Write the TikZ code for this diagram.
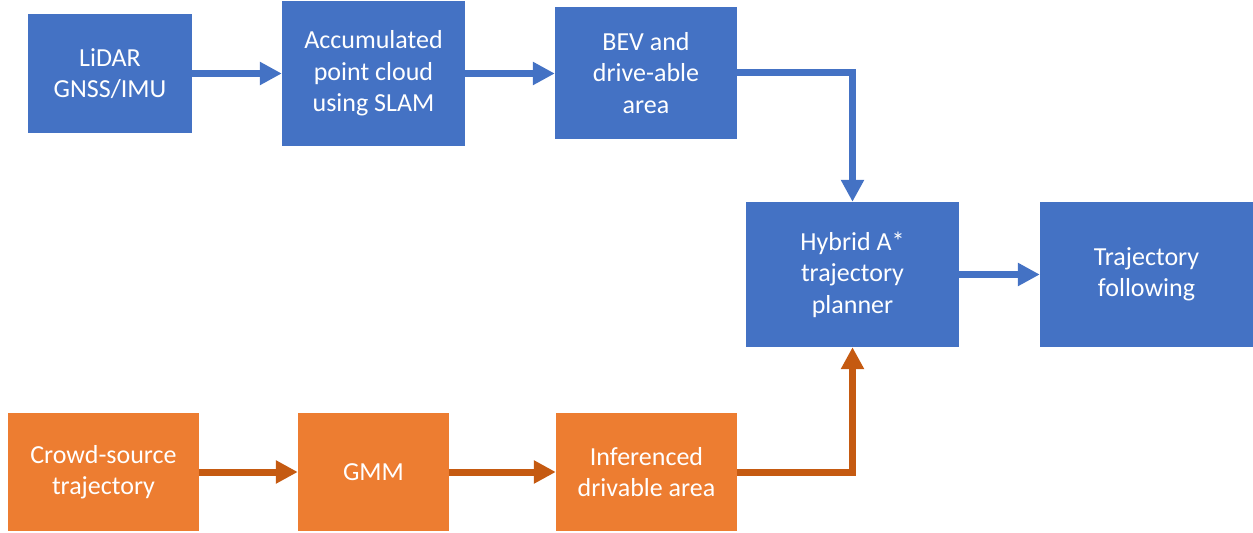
\documentclass[tikz,border=0pt]{standalone}
\usepackage{fontspec}
\setmainfont{Carlito}
\usetikzlibrary{arrows.meta}
\definecolor{boxblue}{HTML}{4472C4}
\definecolor{boxorange}{HTML}{ED7D31}
\definecolor{arroworange}{HTML}{C55A11}
\tikzset{
  bbox/.style={rectangle, fill=boxblue, text=white, align=center, inner sep=0pt,
    font=\fontsize{26bp}{31.5bp}\selectfont},
  obox/.style={bbox, fill=boxorange},
  barrow/.style={draw=boxblue, line width=7bp, -{Triangle[length=22bp,width=22bp]}},
  oarrow/.style={draw=arroworange, line width=7bp, -{Triangle[length=22bp,width=22bp]}},
}
\begin{document}
\begin{tikzpicture}[x=1bp,y=-1bp]
\useasboundingbox (0,0) rectangle (1253,533);
\node[bbox, minimum width=164bp, minimum height=119bp] (lidar) at (110,73.5) {LiDAR\\GNSS/IMU};
\node[bbox, minimum width=183bp, minimum height=145bp] (accum) at (373.5,73.5) {Accumulated\\point cloud\\using SLAM};
\node[bbox, minimum width=182bp, minimum height=132bp] (bev) at (646,73) {BEV and\\drive-able\\area};
\node[bbox, minimum width=213bp, minimum height=145bp] (hybrid) at (852.5,274.5) {Hybrid A*\\trajectory\\planner};
\node[bbox, minimum width=213bp, minimum height=145bp] (traj) at (1146.5,274.5) {Trajectory\\following};
\node[obox, minimum width=191bp, minimum height=118bp] (crowd) at (103.5,472) {Crowd-source\\trajectory};
\node[obox, minimum width=151bp, minimum height=118bp] (gmm) at (373.5,472) {GMM};
\node[obox, minimum width=181bp, minimum height=118bp] (infer) at (646.5,472) {Inferenced\\drivable area};
\draw[barrow] (lidar.east) -- (accum.west |- lidar.east);
\draw[barrow] (accum.east) -- (bev.west |- accum.east);
\draw[barrow] (bev.east) -| (hybrid.north);
\draw[barrow] (hybrid.east) -- (traj.west);
\draw[oarrow] (crowd.east) -- (gmm.west);
\draw[oarrow] (gmm.east) -- (infer.west);
\draw[oarrow] (infer.east) -| (hybrid.south);
\end{tikzpicture}
\end{document}
